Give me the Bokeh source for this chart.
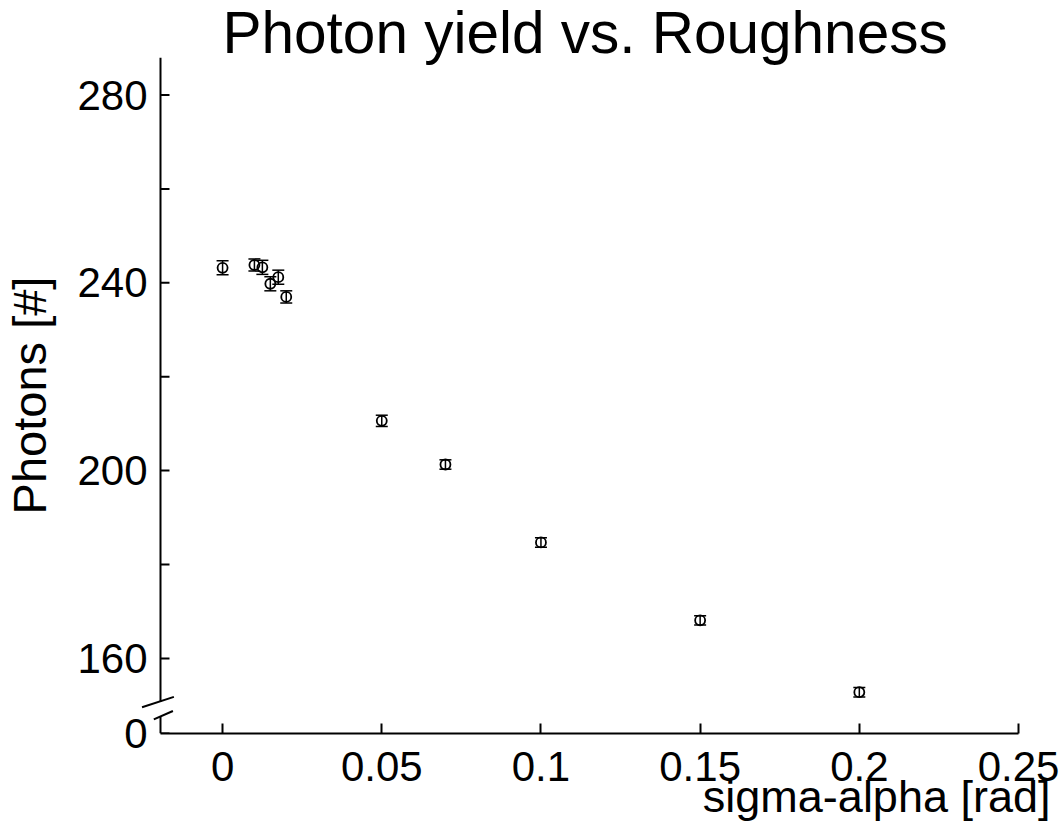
from bokeh.plotting import figure
from bokeh.models import (ColumnDataSource, Whisker, TeeHead, Title,
                          FixedTicker, NumeralTickFormatter, Range1d)
from bokeh.embed import file_html
from bokeh.resources import INLINE

# ---- data ----
sigma_alpha = [0.0, 0.01, 0.0125, 0.015, 0.0175, 0.02, 0.05, 0.07, 0.10, 0.15, 0.20]
photons = [243.2, 243.8, 243.3, 239.8, 241.2, 237.0, 210.6, 201.3, 184.7, 168.1, 152.8]
photons_err = [1.5, 1.3, 1.5, 1.5, 1.5, 1.3, 1.2, 1.0, 1.0, 1.0, 1.0]

x_ticks = [0, 0.05, 0.1, 0.15, 0.2, 0.25]
y_ticks = [144, 160, 180, 200, 220, 240, 260, 280]
y_tick_labels = {144: "0", 160: "160", 180: "", 200: "200", 220: "", 240: "240", 260: "", 280: "280"}

title_text = "Photon yield vs. Roughness"
x_label = "sigma-alpha [rad]"
y_label = "Photons [#]"

FONT = "Liberation Sans"

# axis geometry (data units)
XS, XE = -0.0195, 0.25      # x spine extent
YS, YE = 144, 288           # y spine extent
GAP_LO, GAP_HI = 147.7, 150.7  # axis break on the y spine
PXX = 3184.0                # pixels per x data unit

W, H = 1063, 824
FL, FR, FT, FB = 136, 1050, 57, 733  # frame edges in pixels

p = figure(width=W, height=H,
           x_range=Range1d(XS - (160 - FL) / PXX, XE + (FR - 1018) / PXX),
           y_range=Range1d(YS, YE),
           output_backend="svg", toolbar_location=None,
           min_border_left=FL, min_border_right=W - FR, min_border_top=FT, min_border_bottom=H - FB,
           outline_line_color=None, background_fill_color="white", border_fill_color="white")
p.grid.visible = False

# ---- title (above the frame, left edge over x = 0) ----
p.title.text = title_text
p.title.align = "left"
p.title.offset = 222 - FL
p.title.standoff = -14
p.title.text_font = FONT
p.title.text_font_size = "58.5px"
p.title.text_font_style = "normal"
p.title.text_color = "black"

# ---- x axis ----
xa = p.xaxis[0]
xa.bounds = (XS, XE)
xa.ticker = FixedTicker(ticks=x_ticks)
xa.formatter = NumeralTickFormatter(format="0.[00]")
xa.major_tick_in = 10
xa.major_tick_out = 0
xa.minor_tick_in = 0
xa.minor_tick_out = 0
xa.axis_line_width = 2
xa.major_tick_line_width = 2
xa.major_label_text_font = FONT
xa.major_label_text_font_size = "42px"
xa.major_label_text_color = "black"
xa.major_label_standoff = 18

# x axis label, right-aligned under the axis end
p.add_layout(Title(text=x_label, align="right", offset=0, standoff=-30,
                   text_font=FONT, text_font_size="45px", text_font_style="normal",
                   text_color="black"), "below")

# ---- y axis (labels only; spine and ticks drawn below) ----
ya = p.yaxis[0]
ya.bounds = (YS, YE)
ya.ticker = FixedTicker(ticks=y_ticks)
ya.major_label_overrides = y_tick_labels
ya.axis_line_color = None
ya.major_tick_line_color = None
ya.major_tick_in = 0
ya.major_tick_out = 0
ya.minor_tick_in = 0
ya.minor_tick_out = 0
ya.major_label_text_font = FONT
ya.major_label_text_font_size = "42px"
ya.major_label_text_color = "black"
ya.major_label_standoff = -(160 - FL) + 13
ya.axis_label = y_label
ya.axis_label_text_font = FONT
ya.axis_label_text_font_size = "47px"
ya.axis_label_text_font_style = "normal"
ya.axis_label_text_color = "black"
ya.axis_label_standoff = 18

# y spine with a break
p.segment(x0=[XS, XS], y0=[YS, GAP_HI], x1=[XS, XS], y1=[GAP_LO, YE],
          line_width=2, line_color="black")
# y ticks (pointing inward)
p.segment(x0=[XS] * len(y_ticks), y0=y_ticks, x1=[XS + 9 / PXX] * len(y_ticks), y1=y_ticks,
          line_width=2, line_color="black")
# break marks
p.segment(x0=[-0.0253, -0.0216], y0=[149.6, 147.0], x1=[-0.0153, -0.0156], y1=[151.8, 148.8],
          line_width=2, line_color="black")

src = ColumnDataSource(dict(
    x=sigma_alpha, y=photons,
    upper=[v + e for v, e in zip(photons, photons_err)],
    lower=[v - e for v, e in zip(photons, photons_err)],
))

p.add_layout(Whisker(base="x", upper="upper", lower="lower", source=src,
                     line_width=1.5, line_color="black",
                     upper_head=TeeHead(size=12, line_width=1.5, line_color="black"),
                     lower_head=TeeHead(size=12, line_width=1.5, line_color="black")))
p.scatter("x", "y", source=src, marker="circle", size=10, fill_color=None,
          line_color="black", line_width=1.8)

open("out.html", "w").write(file_html(p, INLINE))
